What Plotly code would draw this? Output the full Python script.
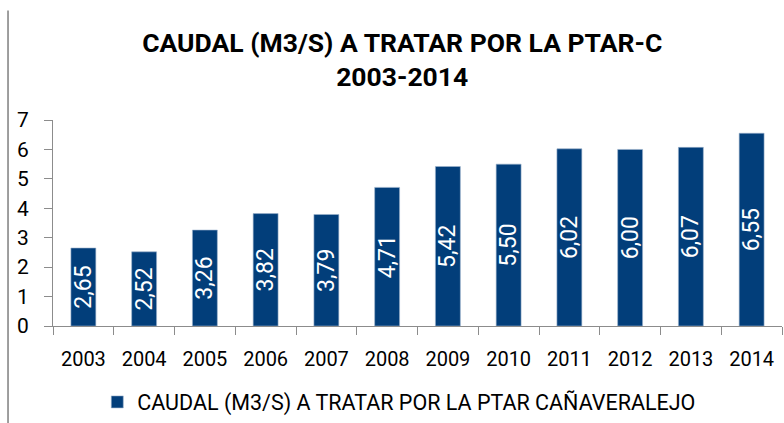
import plotly.graph_objects as go

years = ["2003", "2004", "2005", "2006", "2007", "2008", "2009", "2010", "2011", "2012", "2013", "2014"]
caudal = [2.65, 2.52, 3.26, 3.82, 3.79, 4.71, 5.42, 5.50, 6.02, 6.00, 6.07, 6.55]
series_name = "CAUDAL (M3/S) A TRATAR POR LA PTAR CAÑAVERALEJO"
title_text = "CAUDAL (M3/S) A TRATAR POR LA PTAR-C<br>2003-2014"

FONT = "Roboto"
BAR = "#023E7A"
AXIS = "#8C8C8C"
BORDER = "#7F7F7F"

fig = go.Figure()
fig.add_trace(go.Bar(
    x=years, y=caudal, name=series_name,
    marker=dict(color=BAR, line=dict(color="#9DB3CC", width=0.6)),
    width=0.41,
    texttemplate="%{y:.2f}", textposition="inside", textangle=-90,
    insidetextanchor="middle", constraintext="none",
    textfont=dict(family=FONT, size=23, color="white"),
    showlegend=True,
))

fig.update_layout(
    width=784, height=423,
    margin=dict(l=53, r=2, t=120, b=96),
    paper_bgcolor="white", plot_bgcolor="white",
    separators=",.",
    font=dict(family=FONT, color="black"),
    title=dict(text=title_text, x=0.513, xanchor="center", y=0.877, yanchor="middle",
               font=dict(family=FONT, size=26.5, color="black", weight="bold")),
    showlegend=True,
    legend=dict(orientation="h", x=0.475, xanchor="center", y=-0.362, yanchor="middle",
                font=dict(family=FONT, size=21.5, color="black"), itemwidth=30),
    xaxis=dict(showline=True, linecolor=AXIS, linewidth=1, ticks="outside",
               tickson="boundaries", ticklen=8, tickcolor=AXIS, ticklabelstandoff=15,
               tickfont=dict(family=FONT, size=20, color="black"), showgrid=False),
    yaxis=dict(range=[0, 7], dtick=1, showline=True, linecolor=AXIS, linewidth=1,
               ticks="outside", ticklen=8, tickcolor=AXIS, showgrid=False, zeroline=False,
               tickfont=dict(family=FONT, size=21, color="black"), ticklabelstandoff=11),
    shapes=[
        dict(type="line", xref="paper", yref="paper", x0=-0.0617, x1=-0.0617, y0=-0.6, y1=1.531,
             line=dict(color=BORDER, width=1.5)),
    ],
)

fig.write_html(
    "out.html", config={"displayModeBar": False},
    post_script=("document.body.style.margin='0px';"
                 "document.body.style.overflow='hidden';"
                 "document.documentElement.style.overflow='hidden';"),
)
